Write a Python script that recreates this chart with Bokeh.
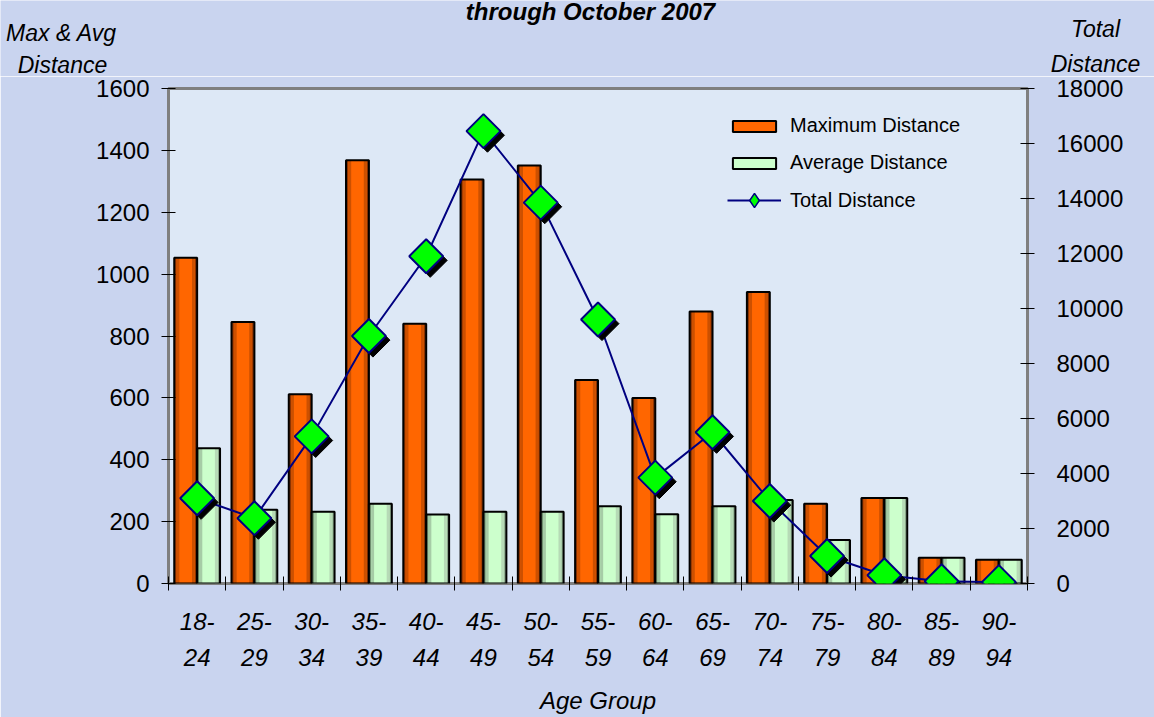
import numpy as np
from bokeh.plotting import figure
from bokeh.layouts import column, row
from bokeh.models import (Range1d, LinearAxis, FixedTicker, Legend, LegendItem, ColumnDataSource)
from bokeh.transform import dodge
from bokeh.core.properties import value
from bokeh.embed import file_html
from bokeh.resources import INLINE

# ---------------- data ----------------
age_groups = ["18-24", "25-29", "30-34", "35-39", "40-44", "45-49", "50-54", "55-59",
              "60-64", "65-69", "70-74", "75-79", "80-84", "85-89", "90-94"]
max_distance = [1053, 845, 612, 1368, 840, 1306, 1351, 658, 600, 879, 942, 258, 276, 83, 77]
avg_distance = [437, 238, 232, 258, 223, 232, 232, 250, 224, 250, 270, 141, 276, 83, 77]
total_distance = [3100, 2375, 5350, 9000, 11900, 16450, 13850, 9600, 3850, 5500, 3000,
                  1000, 300, 80, 50]
left_ticks = [0, 200, 400, 600, 800, 1000, 1200, 1400, 1600]
right_ticks = [0, 2000, 4000, 6000, 8000, 10000, 12000, 14000, 16000, 18000]

# header texts (title line + axis titles)
title_text = ["through October 2007"]
axis_titles = ["Max & Avg", "Distance", "Total", "Distance"]

FONT = "Liberation Sans"
FS = "24px"
W = 1154
HEADER_H = 76
MAIN_H = 641
B_LEFT, B_RIGHT, B_TOP, B_BOTTOM = 168, 127, 12, 134

n = len(age_groups)
centers = [i + 0.5 for i in range(n)]     # category slot centres on a 0..n axis
bounds = list(range(n + 1))               # category slot boundaries
px_per_cat = (W - B_LEFT - B_RIGHT) / n

src = ColumnDataSource(dict(xc=centers, age=age_groups, mx=max_distance, av=avg_distance,
                            tot=total_distance))

BG_OUT = "#c9d4ef"
BG_IN = "#dde8f6"

# ---------------- header strip (titles above the plot) ----------------
header = figure(width=W, height=HEADER_H,
                x_range=Range1d(-B_LEFT / px_per_cat, n + B_RIGHT / px_per_cat),
                y_range=Range1d(HEADER_H, 0),
                output_backend="svg", toolbar_location=None,
                x_axis_location=None, y_axis_location=None,
                min_border_left=0, min_border_right=0, min_border_top=0, min_border_bottom=0,
                background_fill_color=BG_OUT, border_fill_color=BG_OUT)
header.outline_line_color = None
header.grid.visible = False
tx = [(590 - B_LEFT) / px_per_cat]
ty = [11]
ax_x = [(61 - B_LEFT) / px_per_cat, (62 - B_LEFT) / px_per_cat,
        (1095 - B_LEFT) / px_per_cat, (1095 - B_LEFT) / px_per_cat]
ax_y = [32, 64, 28, 63]
header.text(x="x", y="y", text="t", source=ColumnDataSource(dict(x=tx, y=ty, t=title_text)),
            text_font=value(FONT), text_font_size="24px", text_font_style="bold italic",
            text_align="center", text_baseline="alphabetic", text_color="black")
header.text(x="x", y="y", text="t", source=ColumnDataSource(dict(x=ax_x, y=ax_y, t=axis_titles)),
            text_font=value(FONT), text_font_size="23px", text_font_style="italic",
            text_align="center", text_baseline="alphabetic", text_color="black")

# ---------------- main chart ----------------
fig = figure(width=W, height=MAIN_H, x_range=Range1d(0, n), y_range=Range1d(0, 1600),
             output_backend="svg", toolbar_location=None,
             x_axis_location=None, y_axis_location=None,
             min_border_left=B_LEFT, min_border_right=B_RIGHT,
             min_border_top=B_TOP, min_border_bottom=B_BOTTOM,
             background_fill_color=BG_IN, border_fill_color=BG_OUT)
fig.outline_line_color = "#7f7f7f"
fig.outline_line_width = 3
fig.grid.visible = False
fig.extra_y_ranges = {"tot": Range1d(0, 18000)}

def style_axis(ax):
    ax.major_label_text_font = FONT
    ax.major_label_text_font_size = FS
    ax.major_label_text_color = "black"
    ax.axis_line_color = None
    ax.major_tick_line_color = "black"
    ax.major_tick_in = 7
    ax.major_tick_out = 7

ly = LinearAxis(ticker=FixedTicker(ticks=left_ticks), major_label_standoff=12)
style_axis(ly)
fig.add_layout(ly, "left")

ry = LinearAxis(y_range_name="tot", ticker=FixedTicker(ticks=right_ticks), major_label_standoff=22)
style_axis(ry)
fig.add_layout(ry, "right")

bx = LinearAxis(ticker=FixedTicker(ticks=centers, minor_ticks=bounds),
                major_label_overrides={c: g.replace("-", "-\n") for c, g in zip(centers, age_groups)},
                major_label_standoff=17, axis_label="Age Group", axis_label_standoff=13)
style_axis(bx)
bx.major_tick_line_color = None
bx.minor_tick_line_color = "black"
bx.minor_tick_in = 7
bx.minor_tick_out = 7
bx.major_label_text_font_style = "italic"
bx.major_label_text_line_height = 1.35
bx.axis_label_text_font = FONT
bx.axis_label_text_font_size = "24px"
bx.axis_label_text_font_style = "italic"
bx.axis_label_text_color = "black"
fig.add_layout(bx, "below")

# bars (layered strips imitate the cylinder shading)
orange = fig.vbar(x=dodge("xc", -0.2), top="mx", width=0.4, source=src,
                  fill_color="#ff6600", line_color=None)
for off, w, col in [(-0.38, 0.04, "#8c3300"), (-0.335, 0.05, "#cc5000"),
                    (-0.02, 0.04, "#8c3300"), (-0.065, 0.05, "#cc5000")]:
    fig.vbar(x=dodge("xc", off), top="mx", width=w, source=src, fill_color=col, line_color=None)
orange_ol = fig.vbar(x=dodge("xc", -0.2), top="mx", width=0.4, source=src,
                     fill_alpha=0, line_color="black", line_width=2)

green = fig.vbar(x=dodge("xc", 0.2), top="av", width=0.4, source=src,
                 fill_color="#ccffcc", line_color=None)
for off, w, col in [(0.02, 0.04, "#6f906f"), (0.065, 0.05, "#a6cca6"),
                    (0.38, 0.04, "#8aa68a"), (0.335, 0.05, "#b6dab6")]:
    fig.vbar(x=dodge("xc", off), top="av", width=w, source=src, fill_color=col, line_color=None)
green_ol = fig.vbar(x=dodge("xc", 0.2), top="av", width=0.4, source=src,
                    fill_alpha=0, line_color="black", line_width=2)

# total distance line with diamonds
line_r = fig.line(x="xc", y="tot", source=src, y_range_name="tot", line_color="#000080", line_width=2)
leg_dia = fig.scatter(x="xc", y="tot", source=src, y_range_name="tot", marker="diamond",
                      size=18, fill_color="#00ff00", line_color="#000080", line_width=1.5)
fig.scatter(x=dodge("xc", 0.07), y=dodge("tot", -150), source=src, y_range_name="tot",
            marker="square", angle=np.pi / 4, size=24, fill_color="black", line_color="black")
fig.scatter(x="xc", y="tot", source=src, y_range_name="tot", marker="square",
            angle=np.pi / 4, size=24, fill_color="#00ff00", line_color="#000080", line_width=2)

# legends
leg1 = Legend(items=[LegendItem(label="Maximum Distance", renderers=[orange, orange_ol]),
                     LegendItem(label="Average Distance", renderers=[green, green_ol])],
              location=(559, 409), glyph_width=54, glyph_height=14, label_standoff=9,
              label_text_font=FONT, label_text_font_size="20px", label_text_color="black",
              spacing=14, padding=0, margin=0, background_fill_alpha=0, border_line_color=None)
leg2 = Legend(items=[LegendItem(label="Total Distance", renderers=[line_r, leg_dia])],
              location=(559, 365), glyph_width=54, glyph_height=36, label_standoff=9,
              label_text_font=FONT, label_text_font_size="20px", label_text_color="black",
              padding=0, margin=0, background_fill_alpha=0, border_line_color=None)
fig.add_layout(leg1)
fig.add_layout(leg2)

p = column(row(header), row(fig), spacing=0)
open("out.html", "w").write(file_html(p, INLINE))
